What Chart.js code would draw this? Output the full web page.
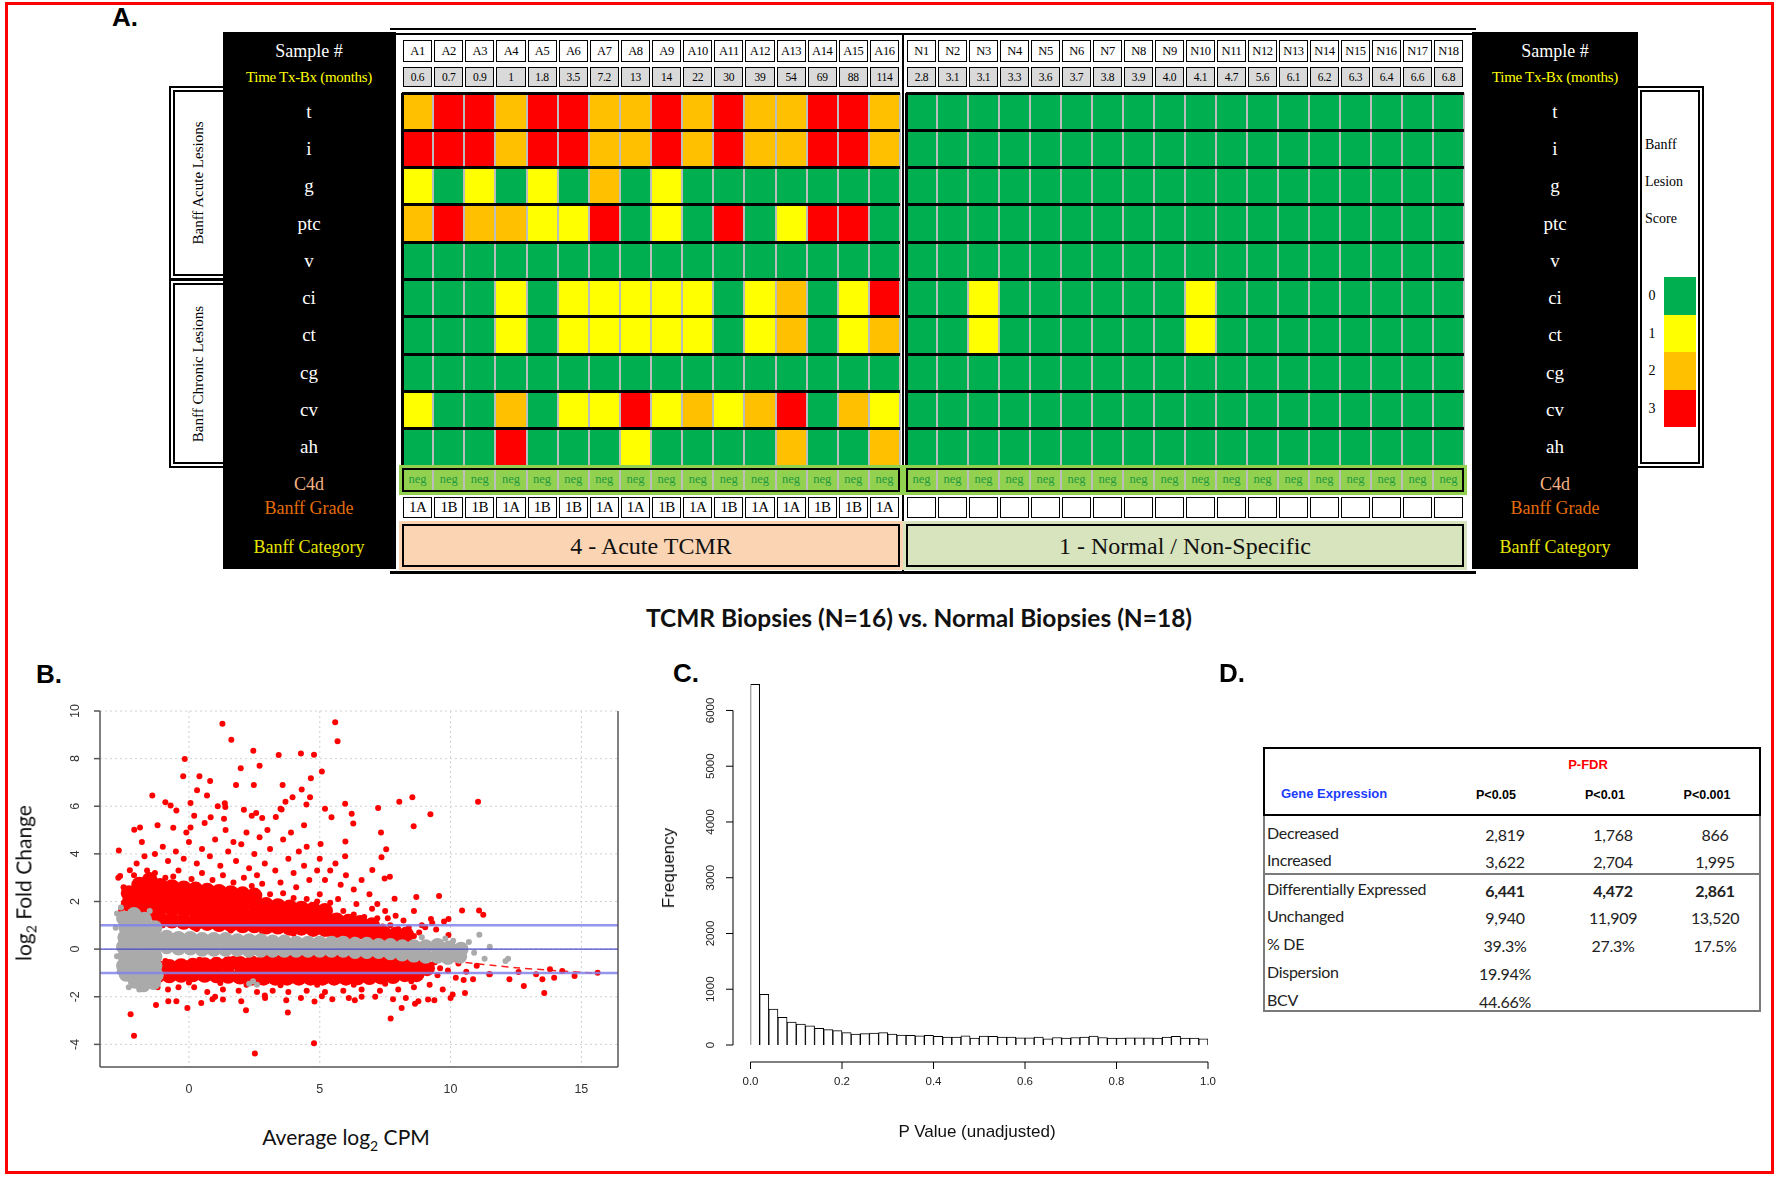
<!DOCTYPE html>
<html>
<head>
<meta charset="utf-8">
<script src="https://cdn.jsdelivr.net/npm/chart.js@4.4.1/dist/chart.umd.min.js"></script>
<style>
  body { margin: 0; width: 1775px; height: 1177px; background: #fff; position: relative; overflow: hidden; font-family: 'Liberation Sans', Arial, sans-serif; }
  .abs { position: absolute; box-sizing: border-box; }
  canvas { position: absolute; }
</style>
</head>
<body>
<script>
// ---------- Panel A data ----------
const sampleIds = ['A1','A2','A3','A4','A5','A6','A7','A8','A9','A10','A11','A12','A13','A14','A15','A16',
  'N1','N2','N3','N4','N5','N6','N7','N8','N9','N10','N11','N12','N13','N14','N15','N16','N17','N18'];
const monthsTxBx = ['0.6','0.7','0.9','1','1.8','3.5','7.2','13','14','22','30','39','54','69','88','114',
  '2.8','3.1','3.1','3.3','3.6','3.7','3.8','3.9','4.0','4.1','4.7','5.6','6.1','6.2','6.3','6.4','6.6','6.8'];
const banffGrades = ['1A','1B','1B','1A','1B','1B','1A','1A','1B','1A','1B','1A','1A','1B','1B','1A',
  '','','','','','','','','','','','','','','','','',''];
const c4dResult = 'neg';
const lesions = ['t','i','g','ptc','v','ci','ct','cg','cv','ah'];
const scoreT   = [2,3,3,2,3,3,2,2,3,2,3,2,2,3,3,2, 0,0,0,0,0,0,0,0,0,0,0,0,0,0,0,0,0,0];
const scoreI   = [3,3,3,2,3,3,2,2,3,2,3,2,2,3,3,2, 0,0,0,0,0,0,0,0,0,0,0,0,0,0,0,0,0,0];
const scoreG   = [1,0,1,0,1,0,2,0,1,0,0,0,0,0,0,0, 0,0,0,0,0,0,0,0,0,0,0,0,0,0,0,0,0,0];
const scorePtc = [2,3,2,2,1,1,3,0,1,0,3,0,1,3,3,0, 0,0,0,0,0,0,0,0,0,0,0,0,0,0,0,0,0,0];
const scoreV   = [0,0,0,0,0,0,0,0,0,0,0,0,0,0,0,0, 0,0,0,0,0,0,0,0,0,0,0,0,0,0,0,0,0,0];
const scoreCi  = [0,0,0,1,0,1,1,1,1,1,0,1,2,0,1,3, 0,0,1,0,0,0,0,0,0,1,0,0,0,0,0,0,0,0];
const scoreCt  = [0,0,0,1,0,1,1,1,1,1,0,1,2,0,1,2, 0,0,1,0,0,0,0,0,0,1,0,0,0,0,0,0,0,0];
const scoreCg  = [0,0,0,0,0,0,0,0,0,0,0,0,0,0,0,0, 0,0,0,0,0,0,0,0,0,0,0,0,0,0,0,0,0,0];
const scoreCv  = [1,0,0,2,0,1,1,3,1,2,1,2,3,0,2,1, 0,0,0,0,0,0,0,0,0,0,0,0,0,0,0,0,0,0];
const scoreAh  = [0,0,0,3,0,0,0,1,0,0,0,0,2,0,0,2, 0,0,0,0,0,0,0,0,0,0,0,0,0,0,0,0,0,0];
const scoreRows = [scoreT, scoreI, scoreG, scorePtc, scoreV, scoreCi, scoreCt, scoreCg, scoreCv, scoreAh];
const scoreColors = ['#00b050', '#ffff00', '#ffc000', '#ff0000'];
const categoryNames = ['4 - Acute TCMR', '1 - Normal / Non-Specific'];

// ---------- Panel B data (average log2 CPM, log2 fold change), pairs x,y ----------
const grayCloud = [
  -2.5,1.3, -2.4,0.9, -2.45,0.5, -2.5,0.1, -2.45,-0.3, -2.5,-0.7, -2.4,-1.05,
  -2.1,1.45, -2.1,1.0, -2.05,0.6, -2.1,0.2, -2.0,-0.2, -2.1,-0.6, -2.0,-1.0, -2.05,-1.35,
  -1.7,1.25, -1.7,0.85, -1.65,0.4, -1.7,0.0, -1.65,-0.4, -1.7,-0.8, -1.6,-1.2, -1.75,-1.5,
  -1.3,0.9, -1.3,0.5, -1.3,0.1, -1.3,-0.3, -1.3,-0.7, -1.25,-1.1, -1.35,-1.4,
  -0.85,0.5, -0.85,0.1, -0.4,0.45, -0.4,0.05, 0.05,0.45, 0.05,0.05, 0.5,0.4, 0.5,0.0, 0.95,0.4, 0.95,0.0,
  1.4,0.4, 1.4,0.0, 1.85,0.35, 1.85,0.0, 2.3,0.35, 2.3,-0.05, 2.75,0.35, 2.75,-0.05, 3.2,0.3, 3.2,-0.05,
  3.65,0.3, 3.65,-0.05, 4.1,0.25, 4.1,-0.05, 4.55,0.25, 4.55,-0.05, 5.0,0.25, 5.0,-0.05, 5.45,0.25, 5.45,-0.05,
  5.9,0.25, 5.9,-0.05, 6.35,0.2, 6.35,-0.1, 6.8,0.2, 6.8,-0.1, 7.25,0.15, 7.25,-0.1, 7.7,0.15, 7.7,-0.15,
  8.15,0.1, 8.15,-0.2, 8.6,0.1, 8.6,-0.25, 9.05,0.1, 9.05,-0.3,
  9.5,0.15, 9.5,-0.3, 9.95,0.05, 9.9,-0.35, 10.4,0.0, 10.35,-0.3
];
const grayGenes = [
  -2.75,1.5, -2.8,0.9, -2.75,-0.3, -2.65,-0.95, -2.3,-1.6, -1.9,-1.7, -1.5,1.6, -2.6,1.75,
  2.3,-1.45, 2.6,-1.5, 2.45,-1.35, 10.7,0.3, 10.9,-0.15, 11.1,0.6, 11.3,-0.4, 11.5,0.1,
  12.1,-0.5, 12.2,-0.4, 9.8,0.45, 10.1,0.35, 8.9,0.5
];
const redCloud = [
  -2.3,1.9, -2.3,2.35, -1.9,1.8, -1.9,2.3, -1.9,2.7, -1.5,1.55, -1.5,2.05, -1.5,2.5, -1.5,2.9,
  -1.1,1.25, -1.1,1.75, -1.1,2.2, -1.1,2.65, -0.65,1.2, -0.65,1.7, -0.65,2.15, -0.65,2.6,
  -0.2,1.15, -0.2,1.65, -0.2,2.1, -0.2,2.55, 0.25,1.1, 0.25,1.6, 0.25,2.05, 0.25,2.5,
  0.7,1.1, 0.7,1.55, 0.7,2.0, 0.7,2.45, 1.15,1.05, 1.15,1.5, 1.15,1.95, 1.15,2.4,
  1.6,1.05, 1.6,1.5, 1.6,1.95, 1.6,2.35, 2.05,1.0, 2.05,1.45, 2.05,1.9, 2.05,2.3,
  2.5,1.0, 2.5,1.45, 2.5,1.9, 2.5,2.25, 2.95,0.95, 2.95,1.4, 2.95,1.85, 3.4,0.95, 3.4,1.4, 3.4,1.8,
  3.85,0.9, 3.85,1.35, 3.85,1.75, 4.3,0.9, 4.3,1.35, 4.3,1.7, 4.75,0.85, 4.75,1.3, 4.75,1.65,
  5.2,0.85, 5.2,1.25, 5.2,1.6, 5.65,0.8, 5.65,1.2, 6.1,0.75, 6.1,1.15,
  6.55,0.75, 6.55,1.1, 7.0,0.7, 7.0,1.0, 7.45,0.65, 7.9,0.6, 8.3,0.6,
  -1.2,-0.78, -1.2,-1.1, -0.75,-0.75, -0.75,-1.1, -0.3,-0.72, -0.3,-1.08, 0.15,-0.7, 0.15,-1.06,
  0.6,-0.68, 0.6,-1.08, 1.05,-0.66, 1.05,-1.1, 1.5,-0.64, 1.5,-1.12, 1.95,-0.62, 1.95,-1.15,
  2.4,-0.6, 2.4,-0.95, 2.4,-1.2, 2.85,-0.58, 2.85,-0.92, 2.85,-1.2, 3.3,-0.55, 3.3,-0.9, 3.3,-1.2,
  3.75,-0.53, 3.75,-0.88, 3.75,-1.2, 4.2,-0.51, 4.2,-0.86, 4.2,-1.2, 4.65,-0.49, 4.65,-0.85, 4.65,-1.2,
  5.1,-0.48, 5.1,-0.85, 5.1,-1.2, 5.55,-0.49, 5.55,-0.85, 5.55,-1.2, 6.0,-0.5, 6.0,-0.86, 6.0,-1.2,
  6.45,-0.52, 6.45,-0.87, 6.45,-1.18, 6.9,-0.54, 6.9,-0.88, 6.9,-1.17, 7.35,-0.56, 7.35,-0.9, 7.35,-1.15,
  7.8,-0.6, 7.8,-0.95, 7.8,-1.13, 8.25,-0.65, 8.25,-1.05, 8.7,-0.72, 8.7,-1.05, 9.1,-0.8
];
const redGenes = [
  1.28,9.46, 1.62,8.79, 5.59,9.53, 5.68,8.73, -0.16,7.98, 2.46,8.33, 3.43,8.15, 4.28,8.22, 4.78,8.16,
  -0.22,7.26, 0.4,7.26, 0.81,7.06, 1.98,7.6, 2.7,7.7, 5.08,7.46, 4.66,7.18,
  -1.4,6.45, -0.9,6.17, -0.7,6.03, -0.48,5.82, 0.06,6.14, 0.31,6.67, 0.69,6.45, 1.8,6.89, 2.48,6.89,
  3.58,6.89, 4.31,6.7, 3.96,6.38, 4.63,6.38, 4.49,6.07, 3.69,6.19, 5.97,6.1, 8.04,6.19, 8.54,6.38,
  11.05,6.19, 7.23,5.93, 9.23,5.66, 8.59,5.16, 1.37,6.13, 1.39,5.97, 1.34,5.48, 2.1,5.85, 2.57,5.72,
  2.8,5.51, 3.32,5.55, 3.54,5.86, 5.2,5.9, 5.45,5.54, 6.22,5.69, 6.28,5.28, 0.83,5.54, 0.06,5.11,
  -2.09,5.01, -1.87,5.11, -2.68,4.14, 7.34,4.9, 5.98,4.52, 7.54,4.19, 5.03,4.41, 7.36,3.86, 5.97,3.9,
  -2.63,3.07, -2.26,3.31, 7.68,3.04, 7.48,2.97, 7.01,3.32, 7.86,2.12, 8.69,2.19, 9.56,2.23, 10.44,1.62,
  11.09,1.62, 11.25,1.44, 9.92,1.27, 9.75,1.16, 9.25,1.27, 9.03,0.92, 9.45,0.82, 9.92,0.59,
  -2.0,3.6, -1.7,3.9, -1.3,4.0, -1.0,4.3, -0.8,3.7, -0.5,4.1, -0.2,3.8, 0.0,4.5, 0.3,3.6, 0.5,4.2,
  0.8,3.9, 1.0,4.6, 1.2,3.5, 1.5,4.1, 1.8,3.7, 2.0,4.4, 2.3,3.4, 2.5,4.0, 2.7,4.7, 2.9,3.6, 3.1,4.2,
  3.3,3.3, 3.6,4.6, 3.8,3.8, 4.0,3.2, 4.2,4.1, 4.4,3.5, 4.6,2.9, 4.9,3.3, 5.2,2.9, 5.4,3.3, 5.8,2.7,
  6.0,3.1, 6.3,2.5, 6.6,2.9, 6.9,2.3, 7.2,1.9, 7.5,1.6, 7.9,1.4, 8.2,1.2, 8.6,1.6, 8.9,1.0, 9.3,1.1,
  8.8,0.7, -2.5,2.6, -2.7,3.0, -2.6,1.6, -1.8,4.5, -0.6,5.1, -0.1,4.9, 0.6,5.3, 1.4,5.0, 2.2,4.9,
  3.0,5.0, 3.9,4.9, 4.5,4.3, 5.0,3.8, 5.6,3.6, 1.7,4.5, 0.2,5.6, -1.2,5.2, 2.4,5.6, 3.5,5.9, 1.1,6.0,
  4.4,5.2, 2.6,3.1, 3.5,2.8, 4.1,2.6, 5.0,2.3, 5.7,2.1, 6.4,1.9, 7.0,1.7, 7.6,1.3, 8.4,0.9, 6.8,0.45,
  7.6,0.45, 8.1,0.4,
  -1.3,3.2, -0.9,3.0, -0.4,3.3, 0.1,2.95, 0.5,3.2, 0.9,2.9, 1.3,3.1, 1.7,2.8, 2.1,3.0, 2.4,2.65,
  2.8,2.75, 3.1,2.3, 3.6,2.35, 4.0,2.15, 4.5,2.1, 4.9,2.0, 5.4,1.95, 5.9,1.6, 6.3,1.45, 6.7,1.35,
  7.2,1.3, 7.7,1.0, 7.4,0.95, 8.0,0.85, 8.6,0.55, -1.6,3.3, -2.1,3.1, -0.6,3.05,
  -1.4,-0.9, -1.5,-1.3, -1.2,-1.6, -0.8,-1.7, -0.4,-1.6, 0.2,-1.6, 0.7,-1.8, 1.3,-1.7, 1.9,-1.75,
  2.6,-1.8, 3.2,-1.75, 3.8,-1.8, 4.5,-1.75, 5.2,-1.8, 5.9,-1.75, 6.6,-1.7, 7.3,-1.75, 8.0,-1.7,
  8.6,-1.6, 9.2,-1.5, 9.5,-1.1, 9.6,-0.8, 9.9,-0.9, 10.3,-0.6, 10.6,-0.95, 10.5,-1.3, 9.4,-0.55,
  0.9,-2.1, 4.8,-2.2, 6.6,-2.0, 2.9,-1.95, 7.8,-2.1, 9.7,-1.7, 10.2,-1.2, 11.5,-1.05, 11.0,-0.7,
  -2.23,-2.73, -2.1,-3.64, -0.06,-2.47, 4.78,-3.95, 2.52,-4.38, 2.18,-2.57, 3.78,-2.66, 7.71,-2.91,
  8.13,-2.47, 8.77,-2.19, 10.55,-1.84, 10.0,-2.05, 13.58,-1.84, 12.8,-1.55, 12.25,-1.27, 11.48,-1.06,
  12.6,-0.96, 13.8,-0.85, 14.27,-0.92, 14.74,-1.13, 15.62,-0.99, 13.51,-1.27, 13.27,-1.06, 13.96,-1.2,
  10.86,-1.27, 10.08,-1.91, -1.26,-2.35, -0.79,-2.19, -0.48,-2.19, 0.47,-2.26, 1.0,-2.0, 1.3,-2.12,
  2.0,-2.19, 2.91,-2.05, 3.72,-2.15, 4.28,-2.05, 5.08,-1.98, 5.48,-2.1, 6.11,-2.05, 6.34,-2.15,
  7.12,-2.0, 8.29,-2.05, 8.64,-2.29, 9.14,-2.12, 9.38,-2.15,
  -1.0,1.0, 0.3,0.85, 1.6,0.78, 2.8,0.72, 4.0,0.65, 5.4,0.58, 6.2,0.5, 7.3,0.46,
  -0.9,-0.5, 0.4,-0.45, 1.7,-0.4, 3.0,-0.33, 4.4,-0.26, 5.7,-0.25, 6.9,-0.3, 8.1,-0.38,
  0.0,-1.4, 1.2,-1.42, 2.2,-1.5, 3.5,-1.52, 4.9,-1.5, 6.3,-1.5, 7.5,-1.45, 8.5,-1.35
];
const trendX = [-2.7, 0, 2.5, 5, 7.5, 10, 12.5, 15.6];
const trendY = [0.37, 0.2, 0.07, -0.07, -0.25, -0.5, -0.78, -1.02];
const foldRefLines = [1, 0, -1];
const maXTicks = [0, 5, 10, 15];
const maYTicks = [-4, -2, 0, 2, 4, 6, 8, 10];

// ---------- Panel C data ----------
const pBinWidth = 0.02;
const pFreq = [6470,910,645,498,412,375,344,301,277,258, 221,197,203,215,221,197,178,172,166,172,
  154,141,141,166,123,160,154,141,141,129, 129,141,111,135,123,135,141,160,135,123,
  123,129,129,129,123,141,154,123,123,111];
const pXTicks = [0, 0.2, 0.4, 0.6, 0.8, 1.0];
const pYTicks = [0, 1000, 2000, 3000, 4000, 5000, 6000];

// ---------- Panel D data ----------
const deLabels = ['Decreased','Increased','Differentially Expressed','Unchanged','% DE','Dispersion','BCV'];
const deP05  = ['2,819','3,622','6,441','9,940','39.3%','19.94%','44.66%'];
const deP01  = ['1,768','2,704','4,472','11,909','27.3%','',''];
const deP001 = ['866','1,995','2,861','13,520','17.5%','',''];
const deHeads = ['P<0.05','P<0.01','P<0.001'];

Chart.defaults.animation = false;
Chart.defaults.devicePixelRatio = 1;

function el(tag, css, html) {
  const d = document.createElement(tag);
  d.className = 'abs';
  d.style.cssText = css;
  if (html !== undefined) d.innerHTML = html;
  document.body.appendChild(d);
  return d;
}
function txt(s, x, y, css) {
  return el('div', `left:${x}px;top:${y}px;transform:translate(-50%,-50%);white-space:nowrap;` + (css || ''), s);
}
function canvasAt(x, y, w, h) {
  const c = document.createElement('canvas');
  c.width = w; c.height = h;
  c.style.left = x + 'px'; c.style.top = y + 'px';
  c.style.width = w + 'px'; c.style.height = h + 'px';
  document.body.appendChild(c);
  return c;
}

// outer red frame
el('div', 'left:5px;top:2px;width:1769px;height:1172px;border:3px solid #f00;');

// ---------- Panel A ----------
txt('A.', 125, 17, 'font:bold 26px "Liberation Sans";');
const HEAT_TOP = 93, ROW_H = 37.3, HEAT_H = ROW_H * 10;
const groups = [
  { left: 402, width: 498, from: 0, to: 16, cat: '#fbd4b4' },
  { left: 906, width: 558, from: 16, to: 34, cat: '#d7e4bd' }
];

// grid frame
el('div', 'left:390px;top:28px;width:1086px;height:546px;border-top:7px double #000;border-bottom:3px solid #000;');
el('div', 'left:902px;top:34px;width:2px;height:537px;background:#000;');

// group label boxes
el('div', 'left:169px;top:86px;width:64px;height:194px;border:6px double #000;background:#fff;');
el('div', 'left:169px;top:279px;width:64px;height:189px;border:6px double #000;background:#fff;');
txt('Banff Acute Lesions', 198, 183, 'font:15px "Liberation Serif";transform:translate(-50%,-50%) rotate(-90deg);');
txt('Banff Chronic Lesions', 198, 374, 'font:15px "Liberation Serif";transform:translate(-50%,-50%) rotate(-90deg);');

// legend box
el('div', 'left:1636px;top:86px;width:68px;height:382px;border:6px double #000;background:#fff;');
['Banff', 'Lesion', 'Score'].forEach((s, k) =>
  el('div', `left:1645px;top:${137 + k * 37}px;font:14px 'Liberation Serif';`, s));
scoreColors.forEach((c, k) => {
  el('div', `left:1664px;top:${277 + k * 37.5}px;width:32px;height:37.5px;background:${c};`);
  txt(String(k), 1652, 296 + k * 37.5, 'font:14px "Liberation Serif";');
});

// black label boxes
[[223, 173, 309], [1472, 166, 1555]].forEach(([bx, bw, cx]) => {
  el('div', `left:${bx}px;top:32px;width:${bw}px;height:537px;background:#000;`);
  txt('Sample #', cx, 51, 'font:18px "Liberation Serif";color:#fff;');
  txt('Time Tx-Bx (months)', cx, 77, 'font:15px "Liberation Serif";color:#ffff00;letter-spacing:-0.3px;');
  lesions.forEach((l, r) => txt(l, cx, HEAT_TOP + (r + 0.5) * ROW_H, 'font:19px "Liberation Serif";color:#fff;'));
  txt('C4d', cx, 484, 'font:18px "Liberation Serif";color:#f4b183;');
  txt('Banff Grade', cx, 508, 'font:18px "Liberation Serif";color:#e46c0a;');
  txt('Banff Category', cx, 547, 'font:18px "Liberation Serif";color:#e6e600;');
});

groups.forEach((g, gi) => {
  const n = g.to - g.from;
  const cw = g.width / n;
  const labels = sampleIds.slice(g.from, g.to);
  const datasets = scoreRows.map((row, r) => ({
    label: lesions[r],
    data: labels.map(() => 1),
    backgroundColor: row.slice(g.from, g.to).map(s => scoreColors[s]),
    borderWidth: 0,
    barPercentage: 1,
    categoryPercentage: 1,
    stack: 'cells'
  }));
  const cv = canvasAt(g.left - 2, HEAT_TOP - 2, g.width + 4, HEAT_H + 4);
  new Chart(cv, {
    type: 'bar',
    data: { labels, datasets },
    options: {
      responsive: false,
      layout: { padding: 2 },
      plugins: { legend: { display: false }, tooltip: { enabled: false } },
      scales: {
        x: {
          stacked: true,
          ticks: { display: false },
          border: { display: false },
          grid: {
            z: 1, offset: true, drawTicks: false,
            color: c => (c.index === 0 || c.index === n) ? '#000' : '#bdbdbd',
            lineWidth: c => (c.index === 0 || c.index === n) ? 3 : 2
          }
        },
        y: {
          stacked: true, reverse: true, min: 0, max: 10,
          ticks: { display: false, stepSize: 1 },
          border: { display: false },
          grid: { z: 2, drawTicks: false, color: '#000', lineWidth: 3 }
        }
      }
    }
  });

  for (let k = 0; k < n; k++) {
    const i = g.from + k;
    const x = g.left + k * cw;
    el('div', `left:${x + 1}px;top:40px;width:${cw - 2}px;height:22px;border:1px solid #000;background:#fff;
      font:12.5px 'Liberation Serif';text-align:center;line-height:20px;letter-spacing:-0.4px;`, sampleIds[i]);
    el('div', `left:${x + 1}px;top:67px;width:${cw - 2}px;height:20px;border:1px solid #000;background:#d9d9d9;
      font:11.5px 'Liberation Serif';text-align:center;line-height:18px;letter-spacing:-0.3px;`, monthsTxBx[i]);
    el('div', `left:${x + 1}px;top:497px;width:${cw - 2}px;height:21px;border:1px solid #000;background:#fff;
      font:15px 'Liberation Serif';text-align:center;line-height:19px;letter-spacing:-0.5px;`, banffGrades[i]);
  }
  // C4d strip
  el('div', `left:${g.left - 3}px;top:465px;width:${g.width + 6}px;height:30px;background:#92d050;`);
  el('div', `left:${g.left}px;top:468px;width:${g.width}px;height:24px;border:2px solid #000;background:#92d050;`);
  for (let k = 0; k < n; k++) {
    const x = g.left + k * cw;
    if (k > 0) el('div', `left:${x - 1}px;top:470px;width:2px;height:20px;background:#bdbdbd;`);
    txt(c4dResult, x + cw / 2, 479, 'font:12.5px "Liberation Serif";color:#1f9a3e;');
  }
  // category
  el('div', `left:${g.left - 3}px;top:521px;width:${g.width + 6}px;height:49px;background:${g.cat};`);
  el('div', `left:${g.left}px;top:524px;width:${g.width}px;height:43px;border:2px solid #000;background:${g.cat};`);
  txt(categoryNames[gi], g.left + g.width / 2, 546, 'font:24px "Liberation Serif";color:#111;');
});

txt('TCMR Biopsies (N=16) vs. Normal Biopsies (N=18)', 919, 617, 'font:bold 24.5px Lato;color:#111;');

// ---------- Panel B ----------
txt('B.', 49, 674, 'font:bold 26px "Liberation Sans";');
const pairs = a => { const p = []; for (let k = 0; k < a.length; k += 2) p.push({ x: a[k], y: a[k + 1] }); return p; };

function rotLabel(ctx, s, x, y) {
  ctx.save(); ctx.translate(x, y); ctx.rotate(-Math.PI / 2);
  ctx.textAlign = 'center'; ctx.textBaseline = 'middle'; ctx.fillText(s, 0, 0); ctx.restore();
}
function seg(ctx, x1, y1, x2, y2) { ctx.beginPath(); ctx.moveTo(x1, y1); ctx.lineTo(x2, y2); ctx.stroke(); }

const maAxes = {
  id: 'maAxes',
  beforeDatasetsDraw(chart) {
    const { ctx, chartArea: a, scales: { x, y } } = chart;
    ctx.save();
    ctx.strokeStyle = '#cfcfcf'; ctx.lineWidth = 1; ctx.setLineDash([2, 3]);
    maXTicks.forEach(v => { const p = x.getPixelForValue(v); seg(ctx, p, a.top, p, a.bottom); });
    maYTicks.forEach(v => { const p = y.getPixelForValue(v); seg(ctx, a.left, p, a.right, p); });
    ctx.restore();
  },
  afterDatasetsDraw(chart) {
    const { ctx, chartArea: a, scales: { y } } = chart;
    ctx.save();
    foldRefLines.forEach(v => {
      const p = y.getPixelForValue(v);
      ctx.strokeStyle = v === 0 ? '#4848cc' : 'rgba(130,130,235,0.85)';
      ctx.lineWidth = v === 0 ? 1.3 : 2.5;
      seg(ctx, a.left, p, a.right, p);
    });
    ctx.restore();
  },
  afterDraw(chart) {
    const { ctx, chartArea: a, scales: { x, y } } = chart;
    ctx.save();
    ctx.strokeStyle = '#555'; ctx.lineWidth = 1.5;
    seg(ctx, a.left, a.top, a.left, a.bottom);
    seg(ctx, a.left, a.bottom, a.right, a.bottom);
    seg(ctx, a.right, a.top, a.right, a.bottom);
    ctx.fillStyle = '#333'; ctx.font = '12.5px "Liberation Sans"';
    maYTicks.forEach(v => {
      const p = y.getPixelForValue(v);
      seg(ctx, a.left - 6, p, a.left, p);
      rotLabel(ctx, String(v), a.left - 24, p);
    });
    ctx.textAlign = 'center'; ctx.textBaseline = 'middle';
    maXTicks.forEach(v => ctx.fillText(String(v), x.getPixelForValue(v), a.bottom + 23));
    ctx.restore();
  }
};

new Chart(canvasAt(30, 680, 620, 440), {
  type: 'scatter',
  data: {
    datasets: [
      { data: pairs(grayCloud), backgroundColor: '#aaaaaa', borderWidth: 0, pointRadius: 7.5 },
      { data: pairs(grayGenes), backgroundColor: '#aaaaaa', borderWidth: 0, pointRadius: 3 },
      { data: pairs(redCloud), backgroundColor: '#ff0000', borderWidth: 0, pointRadius: 8 },
      { data: pairs(redGenes), backgroundColor: '#ff0000', borderWidth: 0, pointRadius: 3 },
      { type: 'line', data: trendX.map((v, k) => ({ x: v, y: trendY[k] })), borderColor: '#ff2020',
        borderWidth: 1.5, borderDash: [7, 5], pointRadius: 0, fill: false, tension: 0.3 }
    ]
  },
  options: {
    responsive: false,
    layout: { padding: { left: 70, top: 31, right: 32, bottom: 53 } },
    plugins: { legend: { display: false }, tooltip: { enabled: false } },
    scales: {
      x: { type: 'linear', min: -3.4, max: 16.4, display: false },
      y: { type: 'linear', min: -4.95, max: 10, display: false }
    }
  },
  plugins: [maAxes]
});
txt('log<sub style="font-size:14px">2</sub> Fold Change', 25, 883, 'font:21px Lato;color:#111;transform:translate(-50%,-50%) rotate(-90deg);');
txt('Average log<sub style="font-size:14px">2</sub> CPM', 346, 1139, 'font:21px Lato;color:#111;');

// ---------- Panel C ----------
txt('C.', 686, 673, 'font:bold 26px "Liberation Sans";');
const histAxes = {
  id: 'histAxes',
  afterDraw(chart) {
    const { ctx, chartArea: a, scales: { x, y } } = chart;
    ctx.save();
    ctx.strokeStyle = '#000'; ctx.lineWidth = 1; ctx.fillStyle = '#222';
    ctx.font = '11.5px "Liberation Sans"';
    const ax = a.left - 17.5, ay = a.bottom + 17;
    seg(ctx, ax, y.getPixelForValue(pYTicks[0]), ax, y.getPixelForValue(pYTicks[pYTicks.length - 1]));
    pYTicks.forEach(v => {
      const p = y.getPixelForValue(v);
      seg(ctx, ax - 7, p, ax, p);
      rotLabel(ctx, String(v), ax - 22, p);
    });
    seg(ctx, x.getPixelForValue(pXTicks[0]), ay, x.getPixelForValue(pXTicks[pXTicks.length - 1]), ay);
    ctx.textAlign = 'center'; ctx.textBaseline = 'middle';
    pXTicks.forEach(v => {
      const p = x.getPixelForValue(v);
      seg(ctx, p, ay, p, ay + 7);
      ctx.fillText(v.toFixed(1), p, ay + 20);
    });
    ctx.restore();
  }
};
new Chart(canvasAt(660, 650, 580, 480), {
  type: 'bar',
  data: {
    datasets: [{
      data: pFreq.map((v, k) => ({ x: (k + 0.5) * pBinWidth, y: v })),
      backgroundColor: '#fff', borderColor: '#000', borderWidth: 1,
      barPercentage: 1, categoryPercentage: 1
    }]
  },
  options: {
    responsive: false,
    layout: { padding: { left: 90.5, top: 27, right: 32, bottom: 85 } },
    plugins: { legend: { display: false }, tooltip: { enabled: false } },
    scales: {
      x: { type: 'linear', min: 0, max: 1, offset: false, display: false },
      y: { type: 'linear', min: 0, max: 6600, display: false }
    }
  },
  plugins: [histAxes]
});
txt('Frequency', 669, 868, 'font:17px "Liberation Sans";color:#111;transform:translate(-50%,-50%) rotate(-90deg);');
txt('P Value (unadjusted)', 977, 1132, 'font:17px "Liberation Sans";color:#111;');

// ---------- Panel D ----------
txt('D.', 1232, 673, 'font:bold 26px "Liberation Sans";');
el('div', 'left:1263px;top:815px;width:498px;height:197px;border:2px solid #7a7a7a;border-top:none;');
el('div', 'left:1263px;top:873px;width:498px;height:2px;background:#7a7a7a;');
el('div', 'left:1263px;top:747px;width:498px;height:69px;border:2px solid #000;background:#fff;');
txt('P-FDR', 1588, 764, 'font:bold 13px "Liberation Sans";color:#f00;');
el('div', 'left:1281px;top:786px;font:bold 13px "Liberation Sans";color:#1a3cff;white-space:nowrap;', 'Gene Expression');
const colX = [1496, 1605, 1707];
deHeads.forEach((h, k) => txt(h, colX[k], 795, 'font:bold 12.5px "Liberation Sans";color:#000;'));
const rowY = [834, 861, 890, 917, 945, 973, 1001];
const valX = [1505, 1613, 1715];
deLabels.forEach((lab, r) => {
  el('div', `left:1267px;top:${rowY[r] - 11}px;font:16px Lato;color:#222;white-space:nowrap;letter-spacing:-0.3px;`, lab);
  [deP05, deP01, deP001].forEach((col, k) => {
    if (col[r]) txt(col[r], valX[k], rowY[r], `font:${r === 2 ? 'bold ' : ''}16px Lato;color:#222;letter-spacing:-0.3px;`);
  });
});
</script>
</body>
</html>
